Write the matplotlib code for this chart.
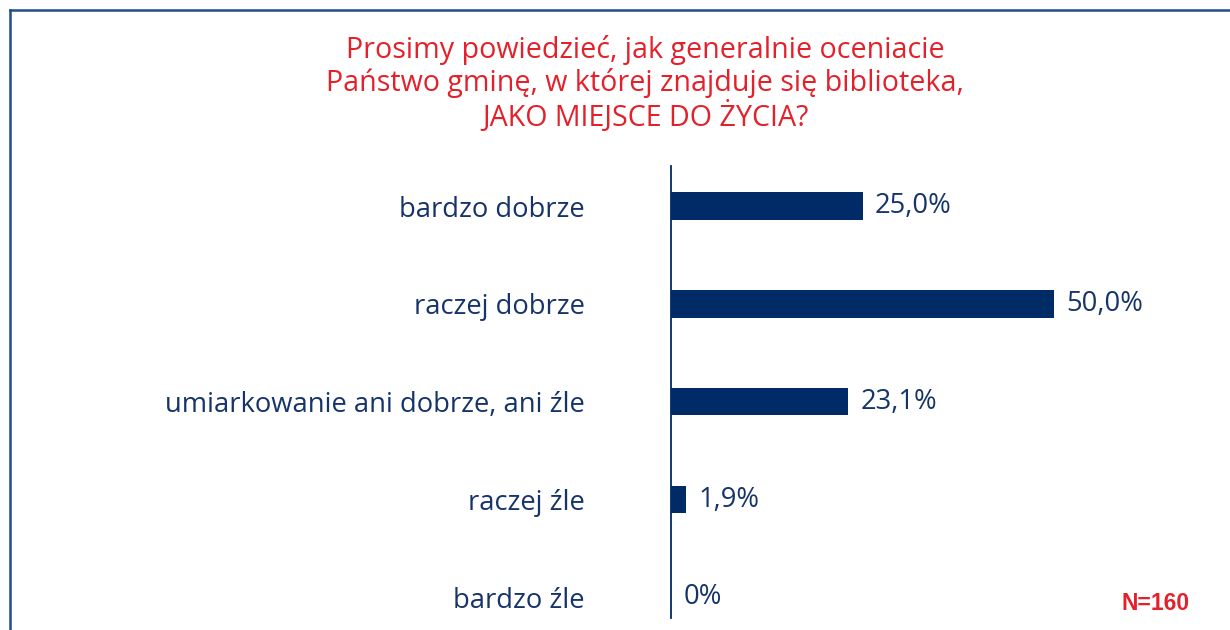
import matplotlib.pyplot as plt
from matplotlib.lines import Line2D

plt.rcParams['font.family'] = ['Open Sans', 'DejaVu Sans']

kategorie = ['bardzo dobrze', 'raczej dobrze', 'umiarkowanie ani dobrze, ani źle',
             'raczej źle', 'bardzo źle']
wartosci = [25.0, 50.0, 23.1, 1.9, 0.0]
etykiety = ['25,0%', '50,0%', '23,1%', '1,9%', '0%']

tytul = ('Prosimy powiedzieć, jak generalnie oceniacie\n'
         'Państwo gminę, w której znajduje się biblioteka,\n'
         'JAKO MIEJSCE DO ŻYCIA?')

GRANAT = '#002b66'
TEKST = '#16346a'
CZERWONY = '#e3212b'

W, H = 1230, 630
fig = plt.figure(figsize=(W / 100, H / 100), dpi=100)

# os: 0% przy x=671 px, 7.66 px na 1%
x0, x1 = 671, 1200
ax = fig.add_axes([x0 / W, (H - 618) / H, (x1 - x0) / W, (618 - 166) / H])
ax.set_xlim(0, (x1 - x0) / 7.66)
ax.set_ylim(4.21, -0.41)

pos = list(range(len(kategorie)))
ax.barh(pos, wartosci, height=0.28, color=GRANAT, zorder=2)

for y, v, e in zip(pos, wartosci, etykiety):
    ax.annotate(e, (v, y), xytext=(9, 0), textcoords='offset points',
                va='center', ha='left', fontsize=19.7, color=TEKST)

ax.set_yticks(pos)
ax.set_yticklabels(kategorie, fontsize=19.7, color=TEKST)
ax.tick_params(axis='y', length=0, pad=62)
ax.set_xticks([])
for s in ['top', 'right', 'bottom']:
    ax.spines[s].set_visible(False)
ax.spines['left'].set_color(GRANAT)
ax.spines['left'].set_linewidth(1.3)

fig.text(645 / W, 1 - 84 / H, tytul, ha='center', va='center', fontsize=20.6,
         color=CZERWONY, linespacing=1.12)
fig.text(1190 / W, 1 - 603 / H, 'N=160', ha='right', va='center', fontsize=16.5,
         fontweight='bold', color=CZERWONY, family=['Liberation Sans', 'DejaVu Sans'])

# ramka
fig.add_artist(Line2D([10 / W, 1], [1 - 10 / H, 1 - 10 / H], color='#1f4e8c', lw=1.8,
                      transform=fig.transFigure))
fig.add_artist(Line2D([10 / W, 10 / W], [0, 1 - 10 / H], color='#1f4e8c', lw=1.8,
                      transform=fig.transFigure))

plt.savefig('out.png', dpi=100)
